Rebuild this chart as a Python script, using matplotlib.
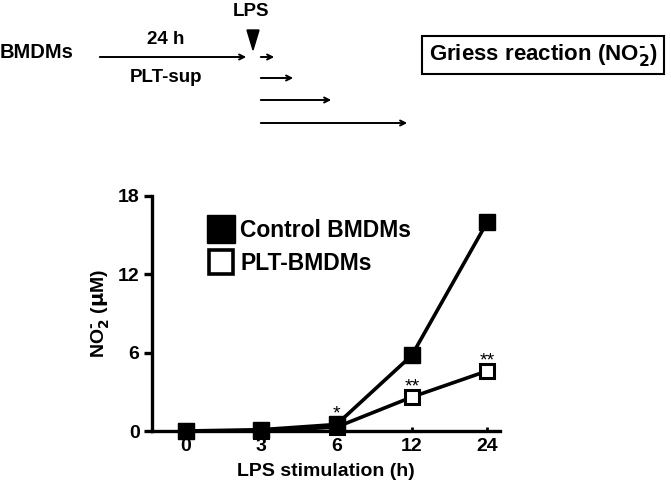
import matplotlib
matplotlib.use("Agg")
import matplotlib.pyplot as plt
from matplotlib.lines import Line2D

plt.rcParams['font.family'] = ['Liberation Sans', 'DejaVu Sans']
plt.rcParams['font.weight'] = 'bold'

time_labels = ["0", "3", "6", "12", "24"]
control = [0.0, 0.1, 0.5, 5.8, 16.0]
plt_bmdm = [0.0, 0.0, 0.3, 2.6, 4.6]
sig_plt = ["", "", "*", "**", "**"]
yticks = [0, 6, 12, 18]

W, H = 671, 497
fig = plt.figure(figsize=(W / 100, H / 100), dpi=100)

def fx(px):
    return px / W

def fy(py):
    return 1 - py / H

# ---- top schematic ----
fig.text(fx(0), fy(52), "BMDMs", fontsize=14.5, fontweight='bold', va='center', ha='left')
fig.text(fx(166), fy(40), "24 h", fontsize=13.5, fontweight='bold', va='center', ha='center')
fig.text(fx(166), fy(78), "PLT-sup", fontsize=13.5, fontweight='bold', va='center', ha='center')
fig.text(fx(251), fy(12), "LPS", fontsize=13.5, fontweight='bold', va='center', ha='center')
fig.patches.append(plt.Polygon([[fx(247), fy(30)], [fx(259), fy(30)], [fx(253), fy(50)]],
                               closed=True, color='black', transform=fig.transFigure))

def arrow(x0, x1, y):
    fig.add_artist(matplotlib.patches.FancyArrowPatch((fx(x0), fy(y)), (fx(x1), fy(y)),
                   transform=fig.transFigure, arrowstyle='->', mutation_scale=9,
                   lw=1.4, color='black'))

arrow(97, 249, 57)
arrow(258, 277, 57)
arrow(258, 296, 78)
arrow(258, 334, 100)
arrow(258, 410, 123)

fig.text(fx(543), fy(55), r"Griess reaction (NO$_2^{\text{-}}$)", fontsize=16, fontweight='bold',
         va='center', ha='center',
         bbox=dict(boxstyle='square,pad=0.28', fc='white', ec='black', lw=1.5))

# ---- chart ----
ax = fig.add_axes([fx(152), fy(431), (500 - 152) / W, (431 - 196) / H])
x = list(range(len(time_labels)))
ax.plot(x, plt_bmdm, color='black', lw=2.6, marker='s', markersize=10,
        markerfacecolor='white', markeredgecolor='black', markeredgewidth=2.2,
        zorder=4, clip_on=False)
ax.plot(x, control, color='black', lw=2.6, marker='s', markersize=11.5,
        markerfacecolor='black', markeredgecolor='black', zorder=5, clip_on=False)

for xi, yi, s in zip(x, plt_bmdm, sig_plt):
    if s:
        top = max(yi, control[xi]) if xi == 2 else yi
        ax.text(xi, top + 0.15, s, ha='center', va='bottom', fontsize=14, fontweight='normal')

ax.set_xlim(-0.45, 4.17)
ax.set_ylim(0, 18)
ax.set_xticks(x)
ax.set_xticklabels(time_labels)
ax.set_yticks(yticks)
for s in ['top', 'right']:
    ax.spines[s].set_visible(False)
for s in ['left', 'bottom']:
    ax.spines[s].set_linewidth(2.4)
ax.tick_params(axis='y', direction='out', length=6, width=2.4, labelsize=14, pad=3)
ax.tick_params(axis='x', direction='in', length=3, width=2.0, labelsize=14, pad=5)
for lab in ax.get_xticklabels() + ax.get_yticklabels():
    lab.set_fontweight('bold')
ax.set_xlabel("LPS stimulation (h)", fontsize=14, fontweight='bold', labelpad=6)
ax.set_ylabel(r"NO$_2^{\text{-}}$ ($\mathbf{\mu}$M)", fontsize=14, fontweight='bold', labelpad=4)
ax.patch.set_alpha(0)

handles = [Line2D([], [], ls='none', marker='s', markersize=20, markerfacecolor='black',
                  markeredgecolor='black'),
           Line2D([], [], ls='none', marker='s', markersize=17, markerfacecolor='white',
                  markeredgecolor='black', markeredgewidth=2.6)]
leg = ax.legend(handles, ["Control BMDMs", "PLT-BMDMs"], loc='upper left',
                bbox_to_anchor=(fx(207 - 152) / ((500 - 152) / W), 1 - 23 / (431 - 196)),
                frameon=False, fontsize=16.5, handletextpad=0.25, labelspacing=0.45,
                handlelength=1.2, borderaxespad=0.0, borderpad=0.0)
for t in leg.get_texts():
    t.set_fontweight('bold')

fig.savefig("out.png", dpi=100)
